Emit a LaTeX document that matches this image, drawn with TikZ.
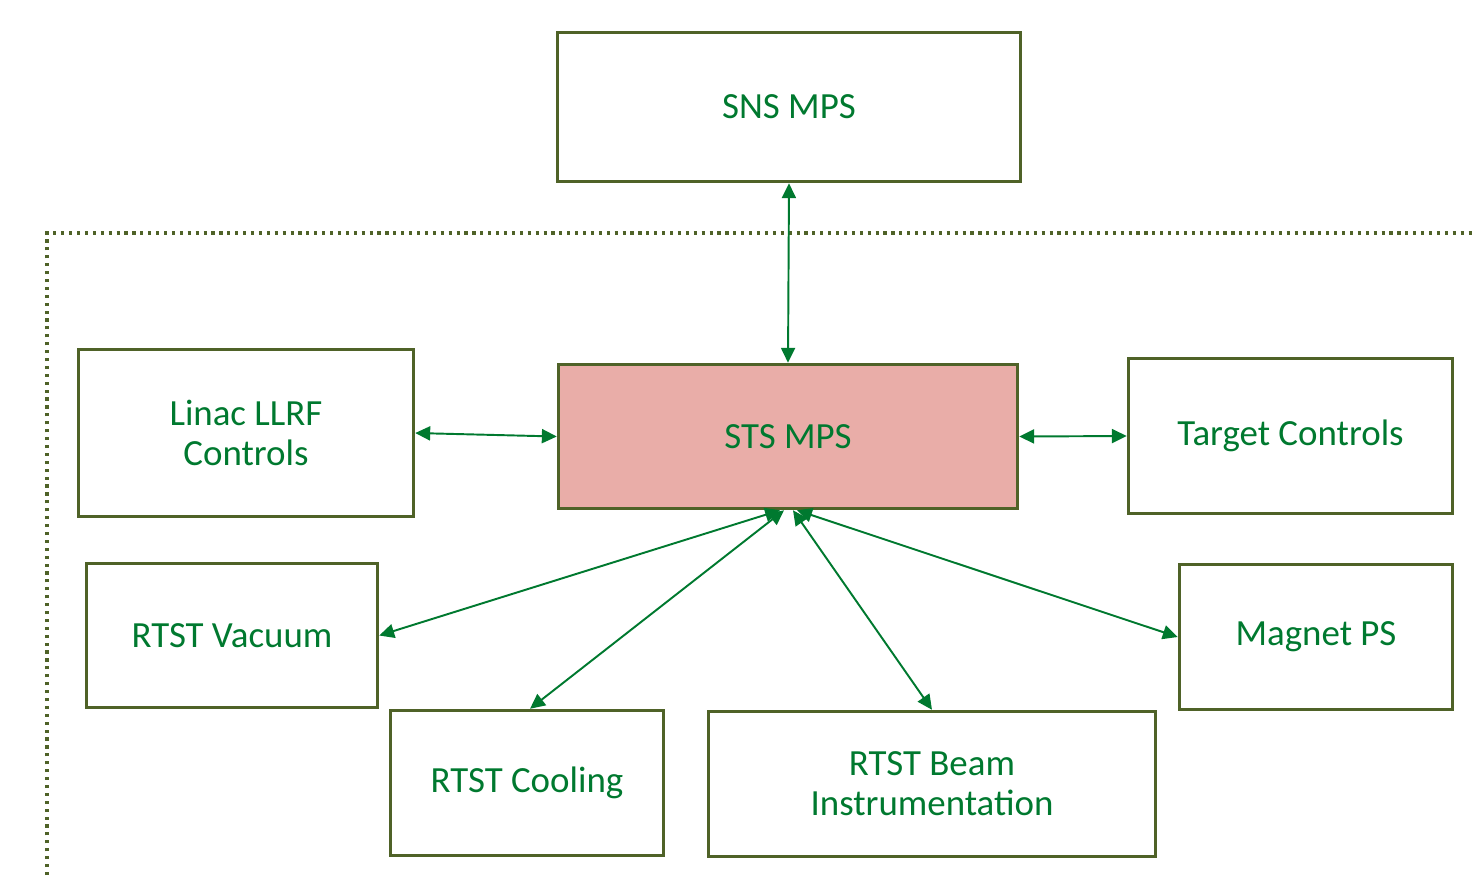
\documentclass[tikz,border=0pt]{standalone}
\usepackage{fontspec}
\setmainfont{Carlito}
\usetikzlibrary{arrows.meta}

\definecolor{boxline}{HTML}{4F6228}
\definecolor{boxtext}{HTML}{00792F}
\definecolor{stsfill}{HTML}{E9ADA8}

\tikzset{
	mpsbox/.style={draw=boxline, line width=2pt, text=boxtext, align=center,
		font=\fontsize{21}{22.7}\selectfont, inner sep=0pt},
	link/.style={draw=boxtext, line width=1.1pt, {Triangle[length=8.5pt,width=8pt]}-{Triangle[length=8.5pt,width=8pt]}}
}

\begin{document}
\begin{tikzpicture}[x=0.02cm, y=-0.02cm]
\useasboundingbox (0,0) rectangle (1476,877);

% boundary of the STS part
\draw[boxline, line width=1.8pt, dash pattern=on 1.8pt off 2.7pt] (47,875) -- (47,233) -- (1476,233);

\node[mpsbox, minimum width=9.26cm, minimum height=2.98cm] (sns) at (789,107) {SNS MPS};
\node[mpsbox, fill=stsfill, minimum width=9.18cm, minimum height=2.88cm] (sts) at (788,436.5) {STS MPS};

\node[mpsbox, minimum width=6.70cm, minimum height=3.34cm] (llrf) at (246,433) {Linac LLRF\\Controls};
\node[mpsbox, minimum width=6.48cm, minimum height=3.10cm] (target) at (1290.5,436) {Target Controls};
\node[mpsbox, minimum width=5.82cm, minimum height=2.88cm] (vacuum) at (232,635.5) {RTST Vacuum};
\node[mpsbox, minimum width=5.46cm, minimum height=2.90cm] (magnet) at (1316,637) {Magnet PS};
\node[mpsbox, minimum width=5.46cm, minimum height=2.90cm] (cooling) at (527,783) {RTST Cooling};
\node[mpsbox, minimum width=8.94cm, minimum height=2.90cm] (beam) at (932,784) {RTST Beam\\Instrumentation};

% links to STS MPS
\draw[link] (sns.south) -- (sts.north);
\draw[link] (llrf.east) -- (sts.west);
\draw[link] (sts.east) -- (target.west);
\draw[link] ([xshift=-0.16cm]sts.south) -- (vacuum.east);
\draw[link] ([xshift=-0.08cm]sts.south) -- ([xshift=0.06cm]cooling.north);
\draw[link] ([xshift=0.10cm]sts.south) -- (beam.north);
\draw[link] ([xshift=0.18cm]sts.south) -- (magnet.west);
\end{tikzpicture}
\end{document}
